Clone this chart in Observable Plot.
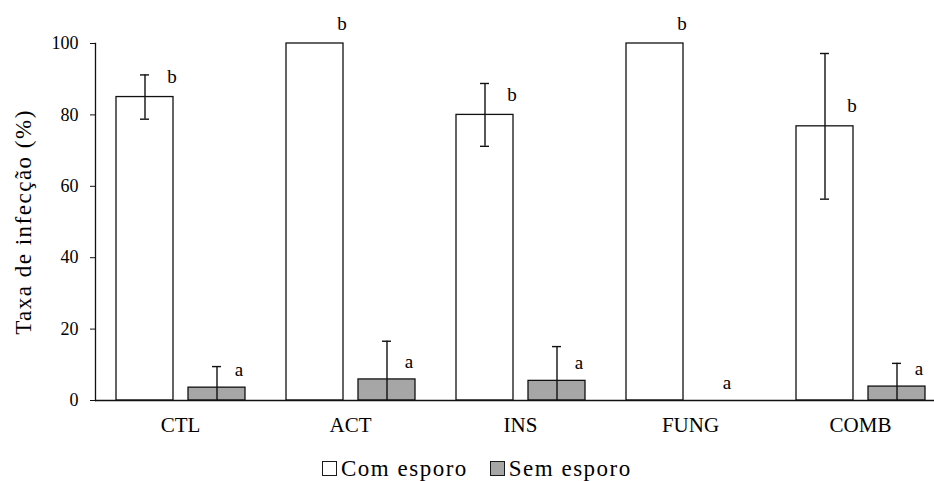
<!DOCTYPE html>
<html>
<head>
<meta charset="utf-8">
<script src="https://cdn.jsdelivr.net/npm/d3@7"></script>
<script src="https://cdn.jsdelivr.net/npm/@observablehq/plot@0.6"></script>
<style>
  body { margin: 0; background: #fff; font-family: "Liberation Serif", "Times New Roman", serif; }
  #chart { position: relative; width: 934px; height: 481px; overflow: hidden; }
  #chart svg { display: block; }
  #chart svg text[transform*="rotate"], #chart svg [transform*="rotate"] text { letter-spacing: 1.5px; }
  .legend { position: absolute; left: 322px; top: 457px; display: flex; align-items: center;
            font-family: "Liberation Serif", "Times New Roman", serif;
            font-size: 23px; line-height: 23px; letter-spacing: 1.5px; color: #000; }
  .legend .item { display: flex; align-items: center; margin-right: 22px; }
  .legend .sw { width: 13px; height: 13px; border: 1px solid #1a1a1a; margin-right: 4px; }
</style>
</head>
<body>
<div id="chart"></div>
<script>
// Tratamentos e séries
const categories = ["CTL", "ACT", "INS", "FUNG", "COMB"];
const series = ["Com esporo", "Sem esporo"];

// Taxa de infecção (%) e erro (±) por tratamento
const comEsporo = [85, 100, 80, 100, 76.8];
const comErro   = [6.2, 0, 8.8, 0, 20.4];
const semEsporo = [3.6, 5.9, 5.5, 0, 3.9];
const semErro   = [5.9, 10.7, 9.6, 0, 6.5];

// Letras de significância
const comLetras = ["b", "b", "b", "b", "b"];
const semLetras = ["a", "a", "a", "a", "a"];

const yTicks = [0, 20, 40, 60, 80, 100];
const yTitle = "Taxa de infecção (%)";

const rows = categories.flatMap((cat, i) => [
  {cat, series: series[0], value: comEsporo[i], err: comErro[i], letter: comLetras[i]},
  {cat, series: series[1], value: semEsporo[i], err: semErro[i], letter: semLetras[i]}
]).map(d => ({...d, lo: Math.max(0, d.value - d.err), hi: d.value + d.err}));

const withErr = rows.filter(d => d.err > 0);
const ink = "#111";
const serif = "'Liberation Serif', 'Times New Roman', serif";

const chart = Plot.plot({
  width: 934,
  height: 440,
  marginLeft: 94,
  marginRight: -11,
  marginTop: 43,
  marginBottom: 40,
  style: {fontFamily: serif, color: "#000", background: "#fff"},
  fx: {domain: categories, padding: 0, label: null},
  x: {domain: series, paddingInner: 0.21, paddingOuter: 0.285, axis: null},
  y: {domain: [0, 100], label: null},
  color: {domain: series, range: ["#ffffff", "#a6a6a6"]},
  marks: [
    Plot.barY(rows, {fx: "cat", x: "series", y: "value", fill: "series", stroke: ink, strokeWidth: 1.3}),
    Plot.ruleX(withErr, {fx: "cat", x: "series", y1: "lo", y2: "hi", stroke: ink, strokeWidth: 1.4}),
    Plot.tickY(withErr, {fx: "cat", x: "series", y: "hi", stroke: ink, strokeWidth: 1.4, insetLeft: 24, insetRight: 24}),
    Plot.tickY(withErr.filter(d => d.lo > 0), {fx: "cat", x: "series", y: "lo", stroke: ink, strokeWidth: 1.4, insetLeft: 24, insetRight: 24}),
    Plot.ruleY([0], {stroke: ink, strokeWidth: 1.6}),
    Plot.frame({anchor: "left", facetAnchor: "left", stroke: ink, strokeWidth: 1.3}),
    Plot.axisY({ticks: yTicks, tickSize: 5, tickPadding: 12, fontSize: 18, fontFamily: serif, label: null, stroke: ink}),
    Plot.axisFx({anchor: "bottom", tickSize: 0, tickPadding: 17, fontSize: 21, fontFamily: serif, label: null}),
    Plot.text(rows.filter(d => d.series === series[0]), {fx: "cat", x: "series", y: "value", text: "letter", dx: 27, dy: -20, fontSize: 19, fontFamily: serif}),
    Plot.text(rows.filter(d => d.series === series[1] && d.err > 0), {fx: "cat", x: "series", y: "value", text: "letter", dx: 22, dy: -18, fontSize: 19, fontFamily: serif}),
    Plot.text(rows.filter(d => d.series === series[1] && !(d.err > 0)), {fx: "cat", x: "series", y: "value", text: "letter", dy: -18, fontSize: 19, fontFamily: serif}),
    Plot.text([yTitle], {frameAnchor: "left", facetAnchor: "left", rotate: -90, textAnchor: "middle", dx: -72, fontSize: 23, fontFamily: serif})
  ]
});

const root = document.getElementById("chart");
root.append(chart);

// Legenda
const legend = document.createElement("div");
legend.className = "legend";
const fills = ["#ffffff", "#a6a6a6"];
series.forEach((s, i) => {
  const item = document.createElement("span");
  item.className = "item";
  const sw = document.createElement("span");
  sw.className = "sw";
  sw.style.background = fills[i];
  item.append(sw, document.createTextNode(s));
  legend.append(item);
});
root.append(legend);
</script>
</body>
</html>
